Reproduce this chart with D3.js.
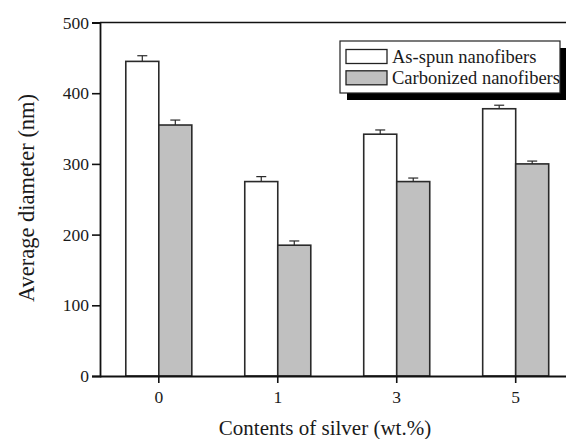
<!DOCTYPE html>
<html><head><meta charset="utf-8">
<script src="https://cdn.jsdelivr.net/npm/d3@7"></script>
<style>body{margin:0;background:#fff}svg{display:block}text{font-family:"Liberation Serif","Times New Roman",serif;fill:#1a1a1a}</style>
</head><body><svg id="c" width="566" height="439"></svg>
<script>
const categories = ["0","1","3","5"];
const seriesNames = ["As-spun nanofibers","Carbonized nanofibers"];
const asSpun = [445, 275, 342, 378];
const asSpunErr = [8, 7, 6, 5];
const carbonized = [355, 185, 275, 300];
const carbonizedErr = [7, 6, 5, 4];
const yTicks = [0,100,200,300,400,500];
const colors = ["#ffffff","#c0c0c0"];

const svg = d3.select("#c");
const L=100, R=575, T=22.5, B=376;
const x0 = d3.scaleBand().domain(categories).range([99.5,R]).paddingInner(0.445).paddingOuter(0.221);
const x1 = d3.scaleBand().domain(seriesNames).range([0,x0.bandwidth()]);
const y = d3.scaleLinear().domain([0,500]).range([B,T]);

const series = [
  {name:seriesNames[0], vals:asSpun, err:asSpunErr, color:colors[0]},
  {name:seriesNames[1], vals:carbonized, err:carbonizedErr, color:colors[1]}
];

// bars
series.forEach(s=>{
  const g = svg.append("g");
  categories.forEach((c,i)=>{
    const xb = x0(c)+x1(s.name), w = x1.bandwidth(), cx = xb+w/2;
    const v = s.vals[i], e = s.err[i];
    g.append("rect").attr("x",xb).attr("y",y(v)).attr("width",w).attr("height",B-y(v))
      .attr("fill",s.color).attr("stroke","#2a2a2a").attr("stroke-width",1.6);
    g.append("line").attr("x1",cx).attr("x2",cx).attr("y1",y(v)).attr("y2",y(v+e)).attr("stroke","#2a2a2a").attr("stroke-width",1.2);
    g.append("line").attr("x1",cx-5).attr("x2",cx+5).attr("y1",y(v+e)).attr("y2",y(v+e)).attr("stroke","#2a2a2a").attr("stroke-width",1.2);
  });
});

// frame
svg.append("line").attr("x1",L).attr("x2",R).attr("y1",T).attr("y2",T).attr("stroke","#111").attr("stroke-width",1.6);

// axes
const ya = svg.append("g").attr("transform",`translate(${L},0)`)
  .call(d3.axisLeft(y).tickValues(yTicks).tickSize(8).tickPadding(3));
ya.select(".domain").attr("stroke","#111").attr("stroke-width",1.8);
ya.selectAll(".tick line").attr("stroke","#111").attr("stroke-width",1.6);
ya.selectAll("text").style("font-size","17.5px").attr("fill","#1a1a1a");

const xa = svg.append("g").attr("transform",`translate(0,${B})`)
  .call(d3.axisBottom(x0).tickSize(7).tickPadding(8).tickSizeOuter(0));
xa.select(".domain").attr("d",`M${L},0.5H${R}`).attr("stroke","#111").attr("stroke-width",1.8);
xa.selectAll(".tick line").attr("stroke","#111").attr("stroke-width",1.6);
xa.selectAll("text").style("font-size","17.5px").attr("fill","#1a1a1a");

// titles
svg.append("text").attr("x",325).attr("y",435).attr("text-anchor","middle").style("font-size","21px").text("Contents of silver (wt.%)");
svg.append("text").attr("transform","translate(34,198) rotate(-90)").attr("text-anchor","middle").style("font-size","22.5px").text("Average diameter (nm)");

// legend
const lg = svg.append("g");
lg.append("rect").attr("x",347).attr("y",48).attr("width",220).attr("height",52).attr("fill","#000");
lg.append("rect").attr("x",340).attr("y",41).attr("width",220).attr("height",52).attr("fill","#fff").attr("stroke","#222").attr("stroke-width",1.2);
series.forEach((s,i)=>{
  lg.append("rect").attr("x",346).attr("y",49.5+i*21.3).attr("width",41).attr("height",14)
    .attr("fill",s.color).attr("stroke","#222").attr("stroke-width",1.3);
  lg.append("text").attr("x",392).attr("y",62.5+i*21.3).style("font-size","18.5px").text(s.name);
});
</script></body></html>
